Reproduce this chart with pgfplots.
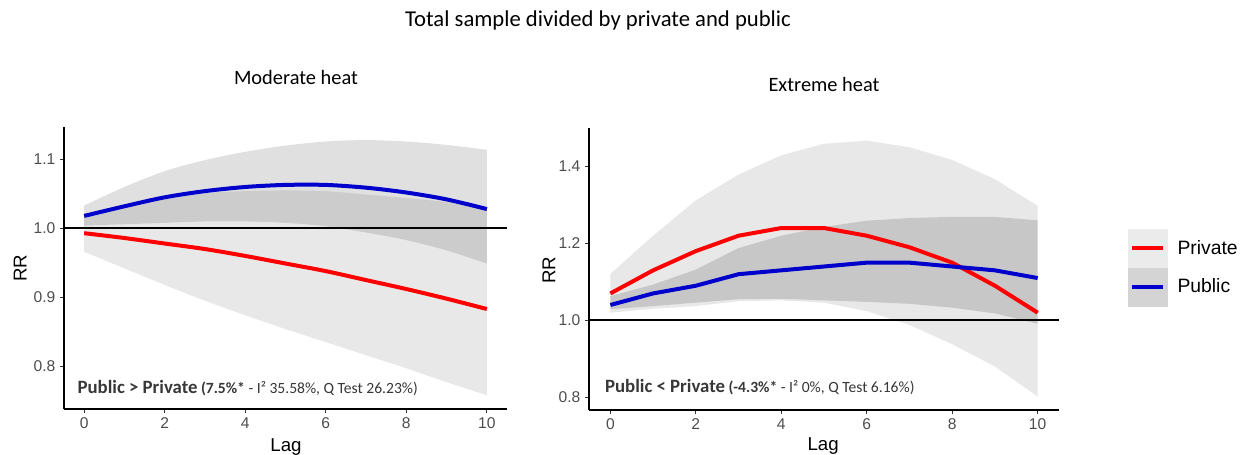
\documentclass[border=0pt]{standalone}
\usepackage{fontspec}
\setmainfont{Liberation Sans}
\newfontfamily\carlito{Carlito}
\usepackage{pgfplots}
\usepackage{pgfplotstable}
\pgfplotsset{compat=1.18}
\usepgfplotslibrary{fillbetween}

\definecolor{pubblue}{RGB}{0,0,205}
\definecolor{privred}{RGB}{255,0,0}
\definecolor{ticklab}{RGB}{77,77,77}
\definecolor{annot}{RGB}{55,55,55}

\pgfplotstableread{
lag privU privL priv pubU pubL pub
0 1.021 0.966 0.993 1.033 1.004 1.018
1 1.032 0.942 0.986 1.060 1.006 1.032
2 1.042 0.918 0.978 1.083 1.008 1.045
3 1.051 0.895 0.970 1.099 1.010 1.054
4 1.054 0.874 0.960 1.111 1.010 1.060
5 1.055 0.854 0.949 1.120 1.008 1.063
6 1.054 0.835 0.938 1.126 1.003 1.063
7 1.049 0.816 0.925 1.128 0.994 1.059
8 1.044 0.797 0.912 1.126 0.983 1.052
9 1.038 0.777 0.898 1.121 0.968 1.042
10 1.029 0.758 0.883 1.114 0.949 1.028
}\moderate

\pgfplotstableread{
lag privU privL priv pubU pubL pub
0 1.121 1.020 1.07 1.063 1.029 1.04
1 1.220 1.030 1.13 1.093 1.037 1.07
2 1.312 1.037 1.18 1.132 1.046 1.09
3 1.379 1.050 1.22 1.188 1.055 1.12
4 1.429 1.052 1.24 1.220 1.056 1.13
5 1.459 1.046 1.24 1.243 1.052 1.14
6 1.467 1.024 1.22 1.259 1.048 1.15
7 1.450 0.988 1.19 1.266 1.043 1.15
8 1.417 0.938 1.15 1.269 1.033 1.14
9 1.367 0.880 1.09 1.269 1.018 1.13
10 1.298 0.802 1.02 1.260 0.991 1.11
}\extreme

\pgfplotsset{
  rrpanel/.style={
    scale only axis,
    height=211.5pt,
    axis x line*=bottom, axis y line*=left,
    axis line style={black, line width=1.5pt, -},
    xmin=-0.5, xmax=10.5, xtick={0,2,4,6,8,10},
    tick align=outside, major tick length=3pt,
    tick style={black!80, line width=0.8pt},
    tick label style={font=\fontsize{11.7}{12}\selectfont, text=ticklab},
    /pgf/number format/assume math mode=true,
    yticklabel style={/pgf/number format/fixed, /pgf/number format/fixed zerofill, /pgf/number format/precision=1},
    label style={font=\fontsize{14}{15}\selectfont},
    xlabel={Lag}, ylabel={RR},
  }
}

\begin{document}
\begin{tikzpicture}

\node[font=\carlito\fontsize{17}{18}\selectfont, anchor=base] at (448.5pt,320.25pt) {Total sample divided by private and public};
\node[font=\carlito\fontsize{15.3}{16}\selectfont, anchor=base] at (222pt,277.1pt) {Moderate heat};
\node[font=\carlito\fontsize{15.3}{16}\selectfont, anchor=base] at (618pt,271.9pt) {Extreme heat};

% ---------- Moderate heat ----------
\begin{axis}[rrpanel, at={(48pt,33.75pt)}, anchor=south west, width=332.25pt,
  ymin=0.738, ymax=1.147, ytick={0.8,0.9,1.0,1.1},
  xlabel style={at={(axis description cs:0.501,-0.151)}, anchor=base},
  ylabel style={at={(axis description cs:-0.099,0.5)}, anchor=center}]
  \addplot[name path=a1, draw=none, smooth, forget plot] table[x=lag,y=privU] {\moderate};
  \addplot[name path=a2, draw=none, smooth, forget plot] table[x=lag,y=privL] {\moderate};
  \addplot[fill=black, fill opacity=0.09, draw=none, forget plot] fill between[of=a1 and a2];
  \addplot[privred, line width=3pt, smooth, forget plot] table[x=lag,y=priv] {\moderate};
  \addplot[name path=b1, draw=none, smooth, forget plot] table[x=lag,y=pubU] {\moderate};
  \addplot[name path=b2, draw=none, smooth, forget plot] table[x=lag,y=pubL] {\moderate};
  \addplot[fill=black, fill opacity=0.12, draw=none, forget plot] fill between[of=b1 and b2];
  \addplot[pubblue, line width=3pt, smooth, forget plot] table[x=lag,y=pub] {\moderate};
  \addplot[black, line width=1.5pt, forget plot] coordinates {(-0.5,1) (10.5,1)};
  \node[anchor=base west, inner sep=0pt, text=annot] at (axis cs:-0.17,0.761)
    {\carlito\bfseries\fontsize{14.1}{15}\selectfont Public > Private\fontsize{11.7}{12}\selectfont\ (7.5\%*\mdseries\ - I² 35.58\%, Q Test 26.23\%)};
\end{axis}

% ---------- Extreme heat ----------
\begin{axis}[rrpanel, at={(441.75pt,33pt)}, anchor=south west, width=352.5pt,
  ymin=0.767, ymax=1.5, ytick={0.8,1.0,1.2,1.4},
  xlabel style={at={(axis description cs:0.498,-0.144)}, anchor=base},
  ylabel style={at={(axis description cs:-0.085,0.496)}, anchor=center},
  legend style={at={(axis description cs:1.1468,0.6418)}, anchor=north west,
    draw=none, fill=none, inner sep=0pt, outer sep=0pt, row sep=0pt,
    font=\fontsize{14.5}{15}\selectfont, nodes={inner sep=0pt}},
  legend cell align=left]
  \addlegendimage{legend image code/.code={
      \fill[black!8] (0pt,-14.25pt) rectangle (29.25pt,14.25pt);
      \draw[privred, line width=3pt] (3pt,0pt) -- (26.25pt,0pt);
      \path (36.75pt,0pt);}}
  \addlegendentry{Private}
  \addlegendimage{legend image code/.code={
      \fill[black!17] (0pt,-14.25pt) rectangle (29.25pt,14.25pt);
      \draw[pubblue, line width=3pt] (3pt,0pt) -- (26.25pt,0pt);
      \path (36.75pt,0pt);}}
  \addlegendentry{Public}
  \addplot[name path=c1, draw=none, forget plot] table[x=lag,y=privU] {\extreme};
  \addplot[name path=c2, draw=none, forget plot] table[x=lag,y=privL] {\extreme};
  \addplot[fill=black, fill opacity=0.09, draw=none, forget plot] fill between[of=c1 and c2];
  \addplot[privred, line width=3pt, forget plot] table[x=lag,y=priv] {\extreme};
  \addplot[name path=d1, draw=none, forget plot] table[x=lag,y=pubU] {\extreme};
  \addplot[name path=d2, draw=none, forget plot] table[x=lag,y=pubL] {\extreme};
  \addplot[fill=black, fill opacity=0.14, draw=none, forget plot] fill between[of=d1 and d2];
  \addplot[pubblue, line width=3pt, forget plot] table[x=lag,y=pub] {\extreme};
  \addplot[black, line width=1.5pt, forget plot] coordinates {(-0.5,1) (10.5,1)};
  \node[anchor=base west, inner sep=0pt, text=annot] at (axis cs:-0.13,0.813)
    {\carlito\bfseries\fontsize{14.1}{15}\selectfont Public < Private\fontsize{11.7}{12}\selectfont\ (-4.3\%*\mdseries\ - I² 0\%, Q Test 6.16\%)};
\end{axis}

\pgfresetboundingbox
\path (0pt,0pt) rectangle (933pt,340.5pt);
\end{tikzpicture}
\end{document}
